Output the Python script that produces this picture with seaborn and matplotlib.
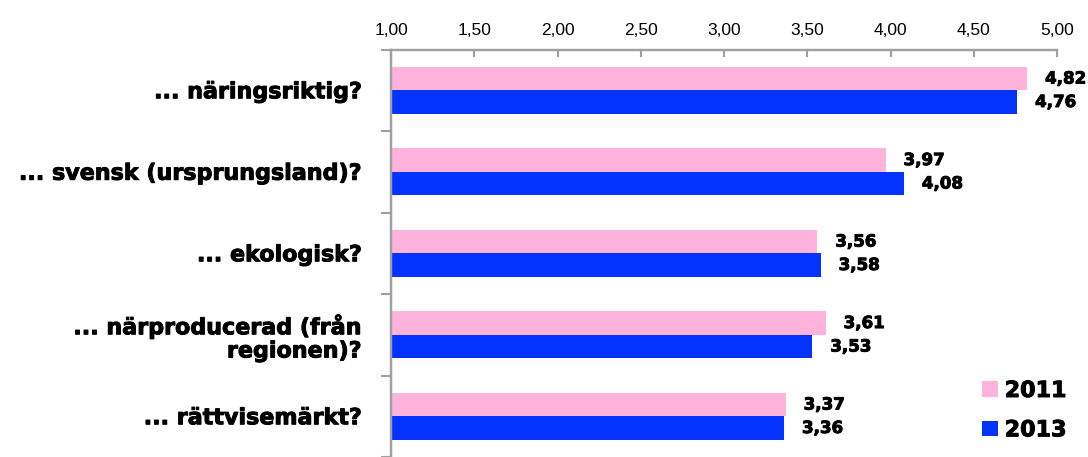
import matplotlib
matplotlib.use("Agg")
import matplotlib.pyplot as plt
import matplotlib.patheffects as pe
import seaborn as sns
import pandas as pd
import numpy as np

categories = [
    "... näringsriktig?",
    "... svensk (ursprungsland)?",
    "... ekologisk?",
    "... närproducerad (från\nregionen)?",
    "... rättvisemärkt?",
]
years = ["2011", "2013"]
values_2011 = [4.82, 3.97, 3.56, 3.61, 3.37]
values_2013 = [4.76, 4.08, 3.58, 3.53, 3.36]
x_ticks = [1.0, 1.5, 2.0, 2.5, 3.0, 3.5, 4.0, 4.5, 5.0]
colors = {"2011": "#FFB3DC", "2013": "#0433FF"}

df = pd.DataFrame({
    "kategori": categories * 2,
    "år": [years[0]] * len(categories) + [years[1]] * len(categories),
    "medel": values_2011 + values_2013,
})

sns.set_theme(style="white")
plt.rcParams["font.family"] = ["DejaVu Sans"]
plt.rcParams["text.color"] = "black"

heavy = [pe.withStroke(linewidth=0.7, foreground="black")]

fig = plt.figure(figsize=(10.88, 4.57), dpi=100)
W, H = 1088, 457
top_px = 49.5
ax = fig.add_axes([391 / W, 0, (1057 - 391) / W, (H - top_px) / H])

sns.barplot(data=df, y="kategori", x="medel", hue="år", order=categories,
            hue_order=years, palette=colors, orient="h", width=0.575,
            saturation=1, ax=ax, legend=True, linewidth=0)

ax.set_xlim(1, 5)
band_px = 82.85
ax.set_ylim(-0.5 + (H - top_px) / band_px, -0.5)

# value labels with decimal comma
for cont, vals in zip(ax.containers, [values_2011, values_2013]):
    texts = ax.bar_label(cont, labels=[f"{v:.2f}".replace(".", ",") for v in vals],
                         padding=13, fontsize=12, fontweight="bold", color="black")
    for t in texts:
        t.set_path_effects(heavy)

# top value axis
ax.xaxis.tick_top()
ax.set_xticks(x_ticks)
ax.set_xticklabels([f"{t:.2f}".replace(".", ",") for t in x_ticks],
                   family="Liberation Sans", fontsize=12.5)
ax.tick_params(axis="x", direction="in", length=5, width=1.5, color="#A0A0A0",
               pad=8, top=True, bottom=False, labelcolor="black")
ax.set_xlabel("")
ax.set_ylabel("")

# category labels, with separators between groups
ax.set_yticks(range(len(categories)))
ax.set_yticklabels(categories, fontsize=16, fontweight="bold", ha="right",
                   multialignment="right", linespacing=1.2, color="black")
for t in ax.get_yticklabels():
    t.set_path_effects(heavy)
ax.tick_params(axis="y", which="major", length=0, pad=21)
ax.set_yticks(np.arange(-0.5, len(categories) + 0.5, 1), minor=True)
ax.tick_params(axis="y", which="minor", left=True, length=7, width=1.5,
               color="#A0A0A0", direction="out")

for side in ["right", "bottom"]:
    ax.spines[side].set_visible(False)
for side in ["top", "left"]:
    ax.spines[side].set_color("#A0A0A0")
    ax.spines[side].set_linewidth(1.75)

handles, labels = ax.get_legend_handles_labels()
ax.get_legend().remove()
leg = fig.legend(handles, labels, loc="upper left",
                 bbox_to_anchor=(982 / W, 1 - 381 / H), frameon=False,
                 prop={"size": 16, "weight": "bold", "family": "DejaVu Sans"},
                 handlelength=0.72, handleheight=0.72, handletextpad=0.3,
                 labelspacing=0.87, borderpad=0, borderaxespad=0)
for t in leg.get_texts():
    t.set_path_effects(heavy)

fig.savefig("out.png", dpi=100)
